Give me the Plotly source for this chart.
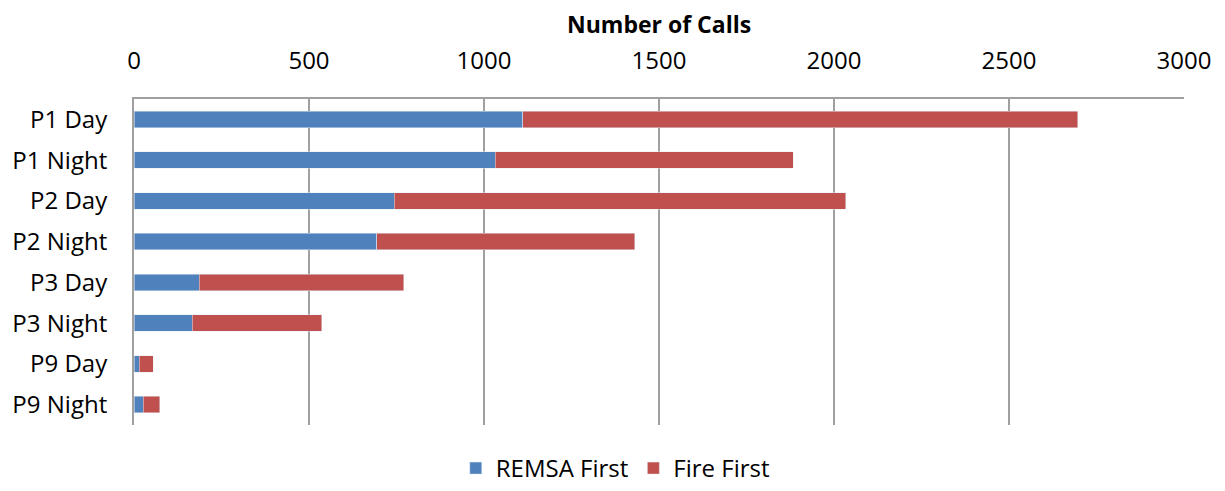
import plotly.graph_objects as go

# Data
categories = ["P1 Day", "P1 Night", "P2 Day", "P2 Night",
              "P3 Day", "P3 Night", "P9 Day", "P9 Night"]
remsa_first = [1111, 1032, 743, 694, 186, 166, 15, 26]
fire_first = [1586, 852, 1291, 737, 585, 370, 40, 47]
x_ticks = [0, 500, 1000, 1500, 2000, 2500, 3000]

fig = go.Figure()

fig.add_trace(go.Bar(
    name="REMSA First",
    y=categories,
    x=remsa_first,
    orientation="h",
    marker_color="#4F81BD",
))

fig.add_trace(go.Bar(
    name="Fire First",
    y=categories,
    x=fire_first,
    orientation="h",
    marker_color="#C0504D",
))

# the page body has an 8px margin, so the figure is sized to fit inside it
fig.update_layout(
    width=1217,
    height=483,
    barmode="stack",
    bargap=0.6,
    plot_bgcolor="white",
    paper_bgcolor="white",
    font=dict(family="Open Sans, sans-serif", size=24, color="black"),
    margin=dict(l=126, r=41, t=91, b=66),
    title=dict(
        text="<b>Number of Calls</b>",
        font=dict(size=23),
        xref="container", yref="container",
        x=0.535, xanchor="center",
        y=0.965, yanchor="middle",
    ),
    legend=dict(
        orientation="h",
        xref="container", yref="container",
        x=0.499, xanchor="center",
        y=0.0, yanchor="bottom",
        font=dict(size=24),
        traceorder="normal",
    ),
)

fig.update_xaxes(
    side="top",
    range=[0, 3000],
    tickvals=x_ticks,
    showgrid=True,
    gridcolor="#A0A0A0",
    gridwidth=2,
    showline=True,
    linecolor="#A0A0A0",
    linewidth=2,
    zeroline=False,
    ticks="",
    ticklabelstandoff=18,
    automargin=False,
)

fig.update_yaxes(
    autorange="reversed",
    showline=True,
    linecolor="#A0A0A0",
    linewidth=2,
    showgrid=False,
    ticks="",
    ticklabelstandoff=20,
    automargin=False,
)

fig.write_html("out.html")
